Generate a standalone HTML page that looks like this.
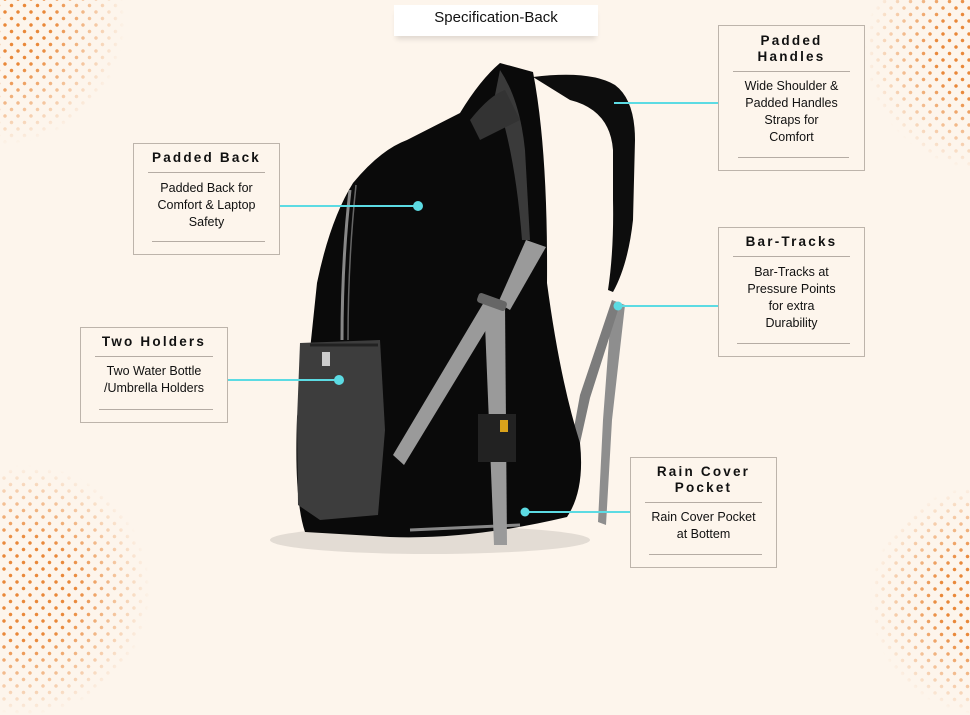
<!DOCTYPE html>
<html><head><meta charset="utf-8"><style>
*{margin:0;padding:0;box-sizing:border-box}
html,body{width:970px;height:600px}
body{background:#fdf5ec;position:relative;overflow:hidden;font-family:"Liberation Sans",sans-serif;color:#111}
.dots{position:absolute;border-radius:50%;background-image:radial-gradient(circle,#e9883a 1.5px,transparent 2px),radial-gradient(circle,#e9883a 1.5px,transparent 2px);background-size:13px 13px;background-position:0 0,6.5px 6.5px;-webkit-mask-image:radial-gradient(circle closest-side,#000 40%,rgba(0,0,0,.35) 80%,transparent 100%);mask-image:radial-gradient(circle closest-side,#000 40%,rgba(0,0,0,.35) 80%,transparent 100%)}
.box{position:absolute;border:1px solid #bdb4ab;background:#fdf5ec;text-align:center}
.box h3{font-size:13.5px;font-weight:bold;letter-spacing:2.2px;line-height:16px;margin:6px 0 0}
.box hr{border:0;border-top:1px solid #b5aca4;margin:6px 14px}
.box p{font-size:12.5px;line-height:17px;margin:7px 4px 0}
.box .b{position:absolute;left:18px;right:14px;bottom:12px;border-top:1px solid #b5aca4}
.title{position:absolute;left:394px;top:5px;width:204px;height:31px;background:#fff;box-shadow:0 5px 5px -2px rgba(0,0,0,.12);font-size:15px;text-align:center;line-height:26px}
</style></head><body>
<div class="dots" style="left:-125px;top:-105px;width:250px;height:250px"></div>
<div class="dots" style="left:865px;top:-70px;width:240px;height:240px"></div>
<div class="dots" style="left:-100px;top:465px;width:250px;height:250px"></div>
<div class="dots" style="left:870px;top:485px;width:230px;height:230px"></div>
<div class="title">Specification-Back</div>

<svg width="970" height="600" style="position:absolute;left:0;top:0">
<ellipse cx="430" cy="540" rx="160" ry="14" fill="#000" opacity=".10"/>
<path d="M533,77 Q590,70 615,85 Q635,100 635,140 L633,220 Q628,265 613,292 L608,290 Q614,250 613,200 L613,150 Q610,110 570,100 Z" fill="#0d0d0d"/>
<path d="M612,300 L625,305 L612,420 L606,525 L598,522 L603,420 Z" fill="#8e8e8e"/>
<path d="M612,300 L580,395 L570,450 L578,452 L590,398 L618,310 Z" fill="#7c7c7c"/>
<path d="M460,113 Q480,80 500,63 L533,72 Q548,150 547,283 Q560,380 580,443 Q585,490 567,517 Q470,540 390,537 L305,532 Q294,500 297,417 L310,350 L317,283 Q330,220 353,183 Q380,150 407,140 Z" fill="#0a0a0a"/>
<path d="M500,70 Q520,100 525,150 L530,240 L522,240 Q515,150 495,95 Z" fill="#3a3a3a"/>
<path d="M470,120 Q490,95 505,90 L520,120 L480,140 Z" fill="#333"/>
<path d="M300,343 L380,340 L385,430 L378,515 L320,520 L298,505 L297,420 Z" fill="#3d3d3d"/>
<path d="M310,345 L378,345" stroke="#222" stroke-width="3"/>
<rect x="322" y="352" width="8" height="14" fill="#ccc"/>
<path d="M350,190 Q342,260 342,340" stroke="#888" stroke-width="3" fill="none"/>
<path d="M356,185 Q348,260 348,340" stroke="#666" stroke-width="1.5" fill="none"/>
<path d="M410,530 L520,525" stroke="#888" stroke-width="3"/>
<path d="M393,455 L487,297 L500,307 L404,465 Z" fill="#9a9a9a"/>
<path d="M526,240 L546,247 L510,310 L498,303 Z" fill="#9a9a9a"/>
<path d="M484,300 L505,304 L507,545 L494,545 Z" fill="#9a9a9a"/>
<rect x="477" y="297" width="30" height="10" rx="3" fill="#666" transform="rotate(20 492 302)"/>
<rect x="478" y="414" width="38" height="48" fill="#222"/>
<rect x="500" y="420" width="8" height="12" fill="#d9a21b"/>
<g stroke="#5cdbe3" stroke-width="2" fill="#5cdbe3">
<line x1="272" y1="206" x2="418" y2="206"/><circle cx="418" cy="206" r="5" stroke="none"/>
<line x1="614" y1="103" x2="731" y2="103"/><circle cx="731" cy="103" r="4.5" stroke="none"/>
<line x1="218" y1="380" x2="339" y2="380"/><circle cx="339" cy="380" r="5" stroke="none"/>
<line x1="618" y1="306" x2="746" y2="306"/><circle cx="618" cy="306" r="4.5" stroke="none"/>
<line x1="525" y1="512" x2="643" y2="512"/><circle cx="525" cy="512" r="4.5" stroke="none"/>
</g>
</svg>

<div class="box" style="left:133px;top:143px;width:147px;height:112px"><h3>Padded Back</h3><hr><p>Padded Back for<br>Comfort &amp; Laptop<br>Safety</p><div class="b"></div></div>
<div class="box" style="left:718px;top:25px;width:147px;height:146px"><h3 style="margin-top:7px">Padded<br>Handles</h3><hr><p style="margin-top:6px">Wide Shoulder &amp;<br>Padded Handles<br>Straps for<br>Comfort</p><div class="b" style="left:19px;right:15px"></div></div>
<div class="box" style="left:718px;top:227px;width:147px;height:130px"><h3>Bar-Tracks</h3><hr><p>Bar-Tracks at<br>Pressure Points<br>for extra<br>Durability</p><div class="b"></div></div>
<div class="box" style="left:80px;top:327px;width:148px;height:96px"><h3>Two Holders</h3><hr><p style="margin-top:6px">Two Water Bottle<br>/Umbrella Holders</p><div class="b"></div></div>
<div class="box" style="left:630px;top:457px;width:147px;height:111px"><h3>Rain Cover<br>Pocket</h3><hr><p style="margin-top:6px">Rain Cover Pocket<br>at Bottem</p><div class="b"></div></div>
</body></html>
